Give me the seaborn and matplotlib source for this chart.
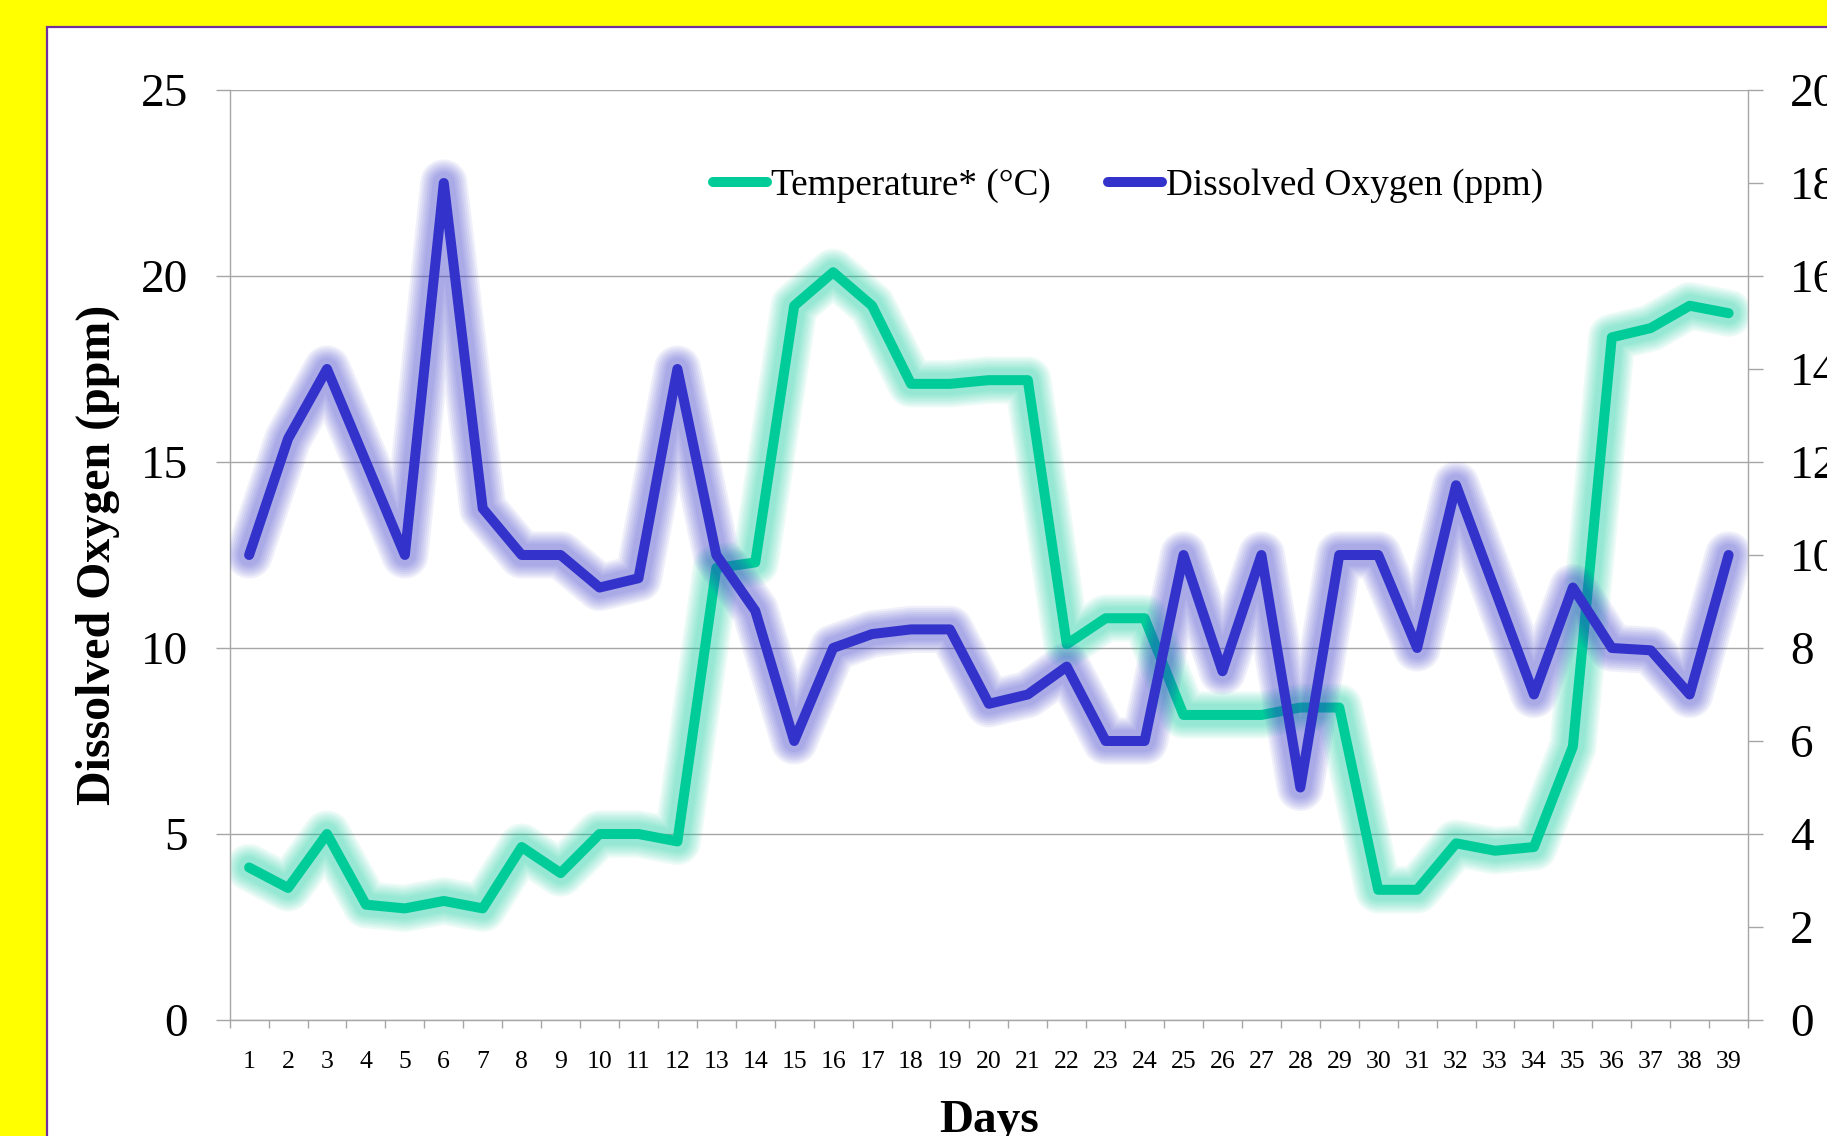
import numpy as np
import pandas as pd
import matplotlib
matplotlib.use("Agg")
import matplotlib.pyplot as plt
from matplotlib.lines import Line2D
from matplotlib.patches import Rectangle
import seaborn as sns

# Daily readings
days = list(range(1, 40))
temperature = [4.1, 3.55, 5.0, 3.1, 3.0, 3.2, 3.0, 4.65, 3.95, 5.0,
               5.0, 4.8, 12.15, 12.3, 19.2, 20.1, 19.2, 17.1, 17.1, 17.2,
               17.2, 10.1, 10.8, 10.8, 8.2, 8.2, 8.2, 8.4, 8.4, 3.5,
               3.5, 4.75, 4.55, 4.65, 7.35, 18.35, 18.6, 19.2, 19.0]
oxygen = [10.0, 12.5, 14.0, 12.0, 10.0, 18.0, 11.0, 10.0, 10.0, 9.3,
          9.5, 14.0, 10.0, 8.8, 6.0, 8.0, 8.3, 8.4, 8.4, 6.8,
          7.0, 7.6, 6.0, 6.0, 10.0, 7.5, 10.0, 5.0, 10.0, 10.0,
          8.0, 11.5, 9.25, 7.0, 9.3, 8.0, 7.95, 7.0, 10.0]
left_ticks = [0, 5, 10, 15, 20, 25]
right_ticks = list(range(0, 21, 2))
temp_label = "Temperature* (°C)"
oxy_label = "Dissolved Oxygen (ppm)"

df = pd.DataFrame({"day": days, "temp": temperature, "oxy": oxygen})

sns.set_theme(style="white")
plt.rcParams["font.family"] = ["Liberation Serif", "DejaVu Serif"]
plt.rcParams["text.color"] = "black"
plt.rcParams["axes.labelcolor"] = "black"

GREEN = "#00CC99"
BLUE = "#3333CC"
GRAY = "#A6A6A6"

fig = plt.figure(figsize=(18.27, 11.36), dpi=100, facecolor="#FFFF00")

# white panel with thin purple border
panel = Rectangle((46.7 / 1827, -0.2), 1.2, 0.2 + (1 - 26.7 / 1136),
                  transform=fig.transFigure, facecolor="white",
                  edgecolor="#7030A0", linewidth=1.6, zorder=-5)
fig.add_artist(panel)

ax = fig.add_axes([0.1257, 0.1021, 0.8311, 0.8187])
ax.patch.set_visible(False)
ax2 = ax.twinx()
ax2.patch.set_visible(False)


def glow_line(axis, col, color):
    # soft halo: stacked translucent strokes, then the solid line on top
    for w in np.linspace(34, 16, 7):
        sns.lineplot(data=df, x="day", y=col, ax=axis, color=color,
                     linewidth=w, alpha=0.07, solid_capstyle="round",
                     solid_joinstyle="round", legend=False)
    sns.lineplot(data=df, x="day", y=col, ax=axis, color=color,
                 linewidth=7.2, solid_capstyle="round",
                 solid_joinstyle="round", legend=False)


glow_line(ax, "temp", GREEN)
glow_line(ax2, "oxy", BLUE)

# axes limits and ticks
ax.set_xlim(0.5, 39.5)
ax.set_ylim(0, 25)
ax2.set_ylim(0, 20)
ax.set_xticks(days)
ax.set_xticklabels([str(d) for d in days])
ax.set_xticks(np.arange(0.5, 40, 1), minor=True)
ax.set_yticks(left_ticks)
ax2.set_yticks(right_ticks)

ax.tick_params(axis="x", which="major", length=0, pad=22, labelsize=18.5,
               labelcolor="black")
ax.tick_params(axis="x", which="minor", length=5.8, width=1.0, color=GRAY,
               direction="out", bottom=True)
ax.tick_params(axis="y", which="major", length=10, width=1.0, color=GRAY,
               direction="out", pad=20, labelsize=34, labelcolor="black",
               left=True)
ax2.tick_params(axis="y", which="major", length=10.8, width=1.0, color=GRAY,
                direction="out", pad=19.5, labelsize=34, labelcolor="black",
                right=True)

ax.yaxis.grid(True, color=GRAY, linewidth=1.0)
ax.xaxis.grid(False)
ax2.grid(False)
ax.set_axisbelow(True)

for a in (ax, ax2):
    for side, sp in a.spines.items():
        sp.set_color(GRAY)
        sp.set_linewidth(1.0)
    a.spines["top"].set_visible(False)
ax.spines["right"].set_visible(False)
ax2.spines["left"].set_visible(False)
ax2.spines["bottom"].set_visible(False)

ax.set_xlabel("")
ax.set_ylabel("")
ax2.set_ylabel("")

fig.text(97.5 / 1827, 1 - 555 / 1136, oxy_label, rotation=90, ha="center",
         va="center", fontsize=34.5, fontweight="bold", color="black")
fig.text(988.8 / 1827, 4.4 / 1136, "Days", ha="center", va="baseline",
         fontsize=34, fontweight="bold", color="black")

handles = [Line2D([], [], color=GREEN, linewidth=7.2, solid_capstyle="round"),
           Line2D([], [], color=BLUE, linewidth=7.2, solid_capstyle="round")]
leg = fig.legend(handles, [temp_label, oxy_label], loc="center left",
                 bbox_to_anchor=(713 / 1827, 1 - 185.5 / 1136), ncol=2,
                 frameon=False, fontsize=26.8, handlelength=1.45,
                 handletextpad=0.1, columnspacing=1.55, borderpad=0,
                 borderaxespad=0)
for t in leg.get_texts():
    t.set_color("black")

fig.savefig("out.png", dpi=100, facecolor=fig.get_facecolor())
